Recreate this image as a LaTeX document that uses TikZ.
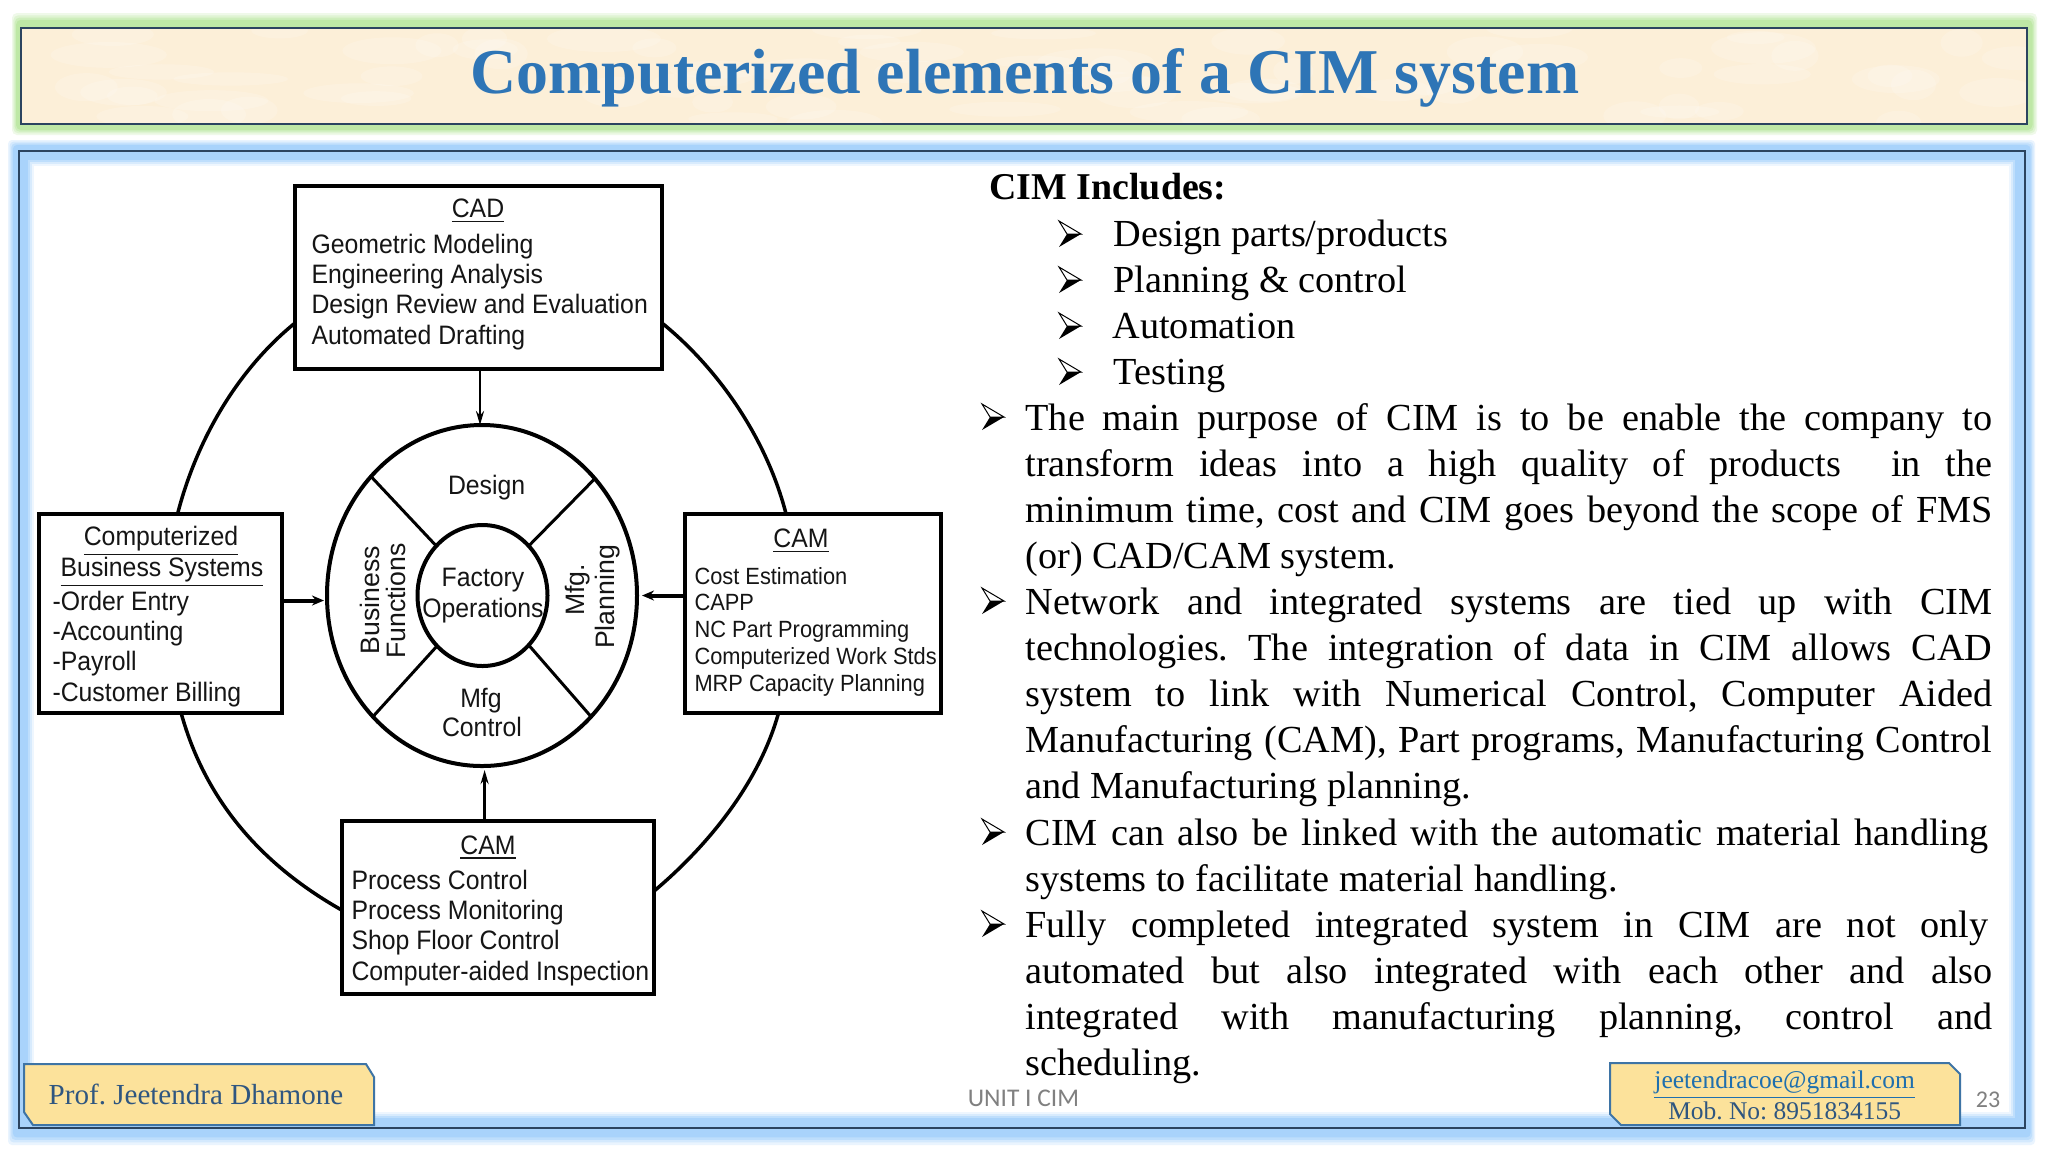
\documentclass[tikz,border=0pt]{standalone}
\usepackage{fontspec}
\setmainfont{Liberation Serif}
\setsansfont{Liberation Sans}[FakeStretch=0.93]
\newfontfamily\sidefont{Liberation Sans}
\newfontfamily\footfont{Carlito}
\usetikzlibrary{arrows.meta,calc,shapes.geometric}
\newcommand{\pxu}{0.375pt}
\definecolor{glowblue}{HTML}{A9D3FB}
\definecolor{glowgreen}{HTML}{BEE8A6}
\definecolor{paper}{HTML}{FCEFD8}
\definecolor{titleblue}{HTML}{2E75B6}
\definecolor{tagfill}{HTML}{FCE29B}
\definecolor{tagline}{HTML}{3E74A5}
\definecolor{tagtext}{HTML}{2F5680}
\definecolor{maillink}{HTML}{1F6FAE}
\definecolor{panelline}{HTML}{2B4460}
\definecolor{ink}{HTML}{151515}
\tikzset{
  box/.style={draw=black,line width=4*\pxu,fill=white,rectangle,inner sep=0pt,outer sep=0pt},
  disc/.style={draw=black,line width=4*\pxu,ellipse,inner sep=0pt,outer sep=0pt},
  lbl/.style={anchor=base west,inner sep=0pt,text=ink,font=\sffamily\fontsize{10}{10}\selectfont},
  small lbl/.style={lbl,font=\sffamily\fontsize{8.8}{9}\selectfont},
  head/.style={lbl,anchor=base},
  side/.style={head,rotate=90,font=\sidefont\fontsize{10}{10}\selectfont},
  ringarc/.style={line width=3.5*\pxu,draw=black},
  spoke/.style={line width=3*\pxu,draw=black},
  feed/.style={line width=2.5*\pxu,-{Stealth[length=14*\pxu,width=8*\pxu]}},
  feed thick/.style={line width=4*\pxu,-{Stealth[length=12*\pxu,width=10*\pxu]}},
  body/.style={anchor=north west,inner sep=0pt,text=black,text width=967*\pxu,align=justify,
    font=\fontsize{14.35}{17.29}\selectfont\frenchspacing,execute at begin node=\strut},
  item/.style={anchor=base west,inner sep=0pt,text=black,font=\fontsize{14.35}{17.29}\selectfont},
  bul/.pic={
    \fill[white] (-11,-13) -- (11,0) -- (-3,0) -- cycle;
    \draw[black,line width=1*\pxu] (-11,-13) -- (11,0) -- (-3,0) -- cycle;
    \fill[black] (-11,13) -- (11,0) -- (-3,0) -- cycle;
  },
  tag/.style={fill=tagfill,draw=tagline,line width=2*\pxu},
  tagtxt/.style={anchor=base,inner sep=0pt,text=tagtext,font=\fontsize{10.9}{11}\selectfont\frenchspacing},
  foot/.style={anchor=base,inner sep=0pt,text=black!50,font=\footfont\fontsize{9.55}{10}\selectfont},
}
\begin{document}
\begin{tikzpicture}[x=\pxu,y=-\pxu]
\useasboundingbox (0,0) rectangle (2048,1152);
\fill[white] (0,0) rectangle (2048,1152);

% title band
\foreach \o/\p in {1/25,.85/50,.7/75,.55/100}
  \fill[glowgreen!\p!white,rounded corners=5*\pxu] ({21-9*\o},{28-15*\o}) rectangle ({2027+10*\o},{124+11*\o});
\fill[paper] (21,28) rectangle (2027,124);
\begin{scope}
  \clip (21,28) rectangle (2027,124);
  \pgfmathsetseed{23}
  \foreach \n in {1,...,70}
    \fill[white,opacity=.16] ({21+2006*rnd},{28+96*rnd}) ellipse ({20+40*rnd} and {6+10*rnd});
\end{scope}
\draw[panelline,line width=2*\pxu] (21,28) rectangle (2027,124);
\node[anchor=base,inner sep=0pt,text=titleblue,font=\bfseries\fontsize{23.95}{24}\selectfont] (title) at (1025,93) {Computerized elements of a CIM system};

% main panel
\foreach \o/\p in {1/25,.85/50,.7/75,.55/100}
  \fill[glowblue!\p!white,rounded corners=4*\pxu] ({19-11*\o},{151-11*\o}) rectangle ({2025+10*\o},{1128+17*\o});
\foreach \o/\p in {0/100,7/100,9/75,11/45,13/20,14.5/0}
  \fill[glowblue!\p!white] ({19+\o},{151+\o}) rectangle ({2025-1.1*\o},{1128-1.1*\o});
\draw[panelline,line width=2.5*\pxu] (19,151) rectangle (2025,1128);

% centre wheel
\node[disc,minimum width=310*\pxu,minimum height=341*\pxu] (ring) at (482,595.5) {};
\node[disc,minimum width=130*\pxu,minimum height=141*\pxu] (hub) at (482.5,595.5) {};
\draw[spoke] (ring.133.4) -- (hub.133.9);
\draw[spoke] (ring.46.9) -- (hub.47.3);
\draw[spoke] (ring.228.8) -- (hub.228.5);
\draw[spoke] (ring.312.4) -- (hub.313.2);

% four boxes
\node[box,minimum width=367*\pxu,minimum height=183.5*\pxu] (cad) at (478.5,277.25) {};
\node[box,minimum width=243*\pxu,minimum height=199*\pxu] (biz) at (160,613.5) {};
\node[box,minimum width=255.5*\pxu,minimum height=199*\pxu] (cam) at (812.75,613.5) {};
\node[box,minimum width=312*\pxu,minimum height=173*\pxu] (camb) at (498,907.5) {};

% outer ring pieces
\draw[ringarc] (cad.194.6) .. controls +(-56.9,46.2) and +(19.3,-75.1) .. (biz.80.9);
\draw[ringarc] (cad.346.5) .. controls +(56.9,46.2) and +(-19.3,-75.1) .. (cam.105.6);
\draw[ringarc] (biz.282.25) .. controls +(25.1,91.1) and +(-76.6,-43.2) .. (camb.181.65);
\draw[ringarc] (cam.251.3) .. controls +(-19.5,70.5) and +(53,-44.6) .. (camb.6.4);

% arrows into the wheel
\draw[feed] ($(ring.north |- cad.south)+(-2,0)$) -- ($(ring.north)+(-2,0)$);
\draw[feed] ($(ring.south |- camb.north)+(2.6,0)$) -- ($(ring.south)+(2.6,4)$);
\draw[feed thick] ($(biz.east |- ring.west)+(0,5)$) -- ($(ring.west)+(-3,5)$);
\draw[feed thick] (cam.west |- ring.east) -- ($(ring.east)+(5,0)$);

% box texts
\node[head] (cadh) at (478,217.5) {\underline{CAD}};
\foreach \t [count=\i from 0] in {Geometric Modeling,Engineering Analysis,Design Review and Evaluation,Automated Drafting}
  \node[lbl] (cad\i) at (311,253.5+30.2*\i) {\t};
\node[head] (bizh) at (161,545) {\underline{Computerized}};
\node[head] (bizs) at (162,576) {\underline{Business Systems}};
\foreach \t [count=\i from 0] in {-Order Entry,-Accounting,-Payroll,-Customer Billing}
  \node[lbl] (biz\i) at (52,610+30.4*\i) {\t};
\node[head] (camh) at (801,547.4) {\underline{CAM}};
\foreach \t [count=\i from 0] in {Cost Estimation,CAPP,NC Part Programming,Computerized Work Stds,MRP Capacity Planning}
  \node[small lbl] (cam\i) at (694,584+26.8*\i) {\t};
\node[head] (cambh) at (488,854) {\underline{CAM}};
\foreach \t [count=\i from 0] in {Process Control,Process Monitoring,Shop Floor Control,Computer-aided Inspection}
  \node[lbl] (camb\i) at (351,889+30.4*\i) {\t};

% wheel texts
\node[head] (design) at (486.6,494) {Design};
\node[head] (fact) at (483,586) {Factory};
\node[head] (oper) at (483,617) {Operations};
\node[head] (mfg) at (481,707) {Mfg};
\node[head] (ctrl) at (482,736.6) {Control};
\node[side] (busi) at (379,600) {Business};
\node[side] (func) at (405,601) {Functions};
\node[side] (mfgp) at (584.6,590) {Mfg.};
\node[side] (plan) at (614,597) {Planning};

% right column
\node[anchor=base west,inner sep=0pt,font=\bfseries\fontsize{14.2}{17.29}\selectfont] (inc) at (989,199.5) {CIM Includes:};
\foreach \t/\y/\x [count=\i] in {Design parts{/}products/246/1113,Planning \& control/292/1113,Automation/338/1112,Testing/384/1113}{
  \pic at (1070,\y-12) {bul};
  \node[item] (it\i) at (\x,\y) {\t};
}
\pic at (993,417) {bul};
\node[body] (p1) at (1025,397.6) {The main purpose of CIM is to be enable the company to\linebreak
 transform ideas into a high quality of products\ \ in the\linebreak
 minimum time, cost and CIM goes beyond the scope of FMS\linebreak
 (or) CAD/CAM system.};
\pic at (993,601) {bul};
\node[body] (p2) at (1025,581.6) {Network and integrated systems are tied up with CIM\linebreak
 technologies. The integration of data in CIM allows CAD\linebreak
 system to link with Numerical Control, Computer Aided\linebreak
 Manufacturing (CAM), Part programs, Manufacturing Control\linebreak
 and Manufacturing planning.};
\pic at (993,832) {bul};
\node[body,text width=963*\pxu] (p3) at (1025,812.6) {CIM can also be linked with the automatic material handling\linebreak
 systems to facilitate material handling.};
\pic at (993,924) {bul};
\node[body] (p4) at (1025,904.6) {\hbox to 361.1pt{Fully\hfill completed\hfill integrated\hfill system\hfill in\hfill CIM\hfill are\hfill not\hfill only}\hfil\linebreak
 automated but also integrated with each other and also\linebreak
 integrated with manufacturing planning, control and\linebreak
 scheduling.};

% footer
\draw[tag] (24,1064) -- (366,1064) -- (374,1077) -- (374,1125) -- (33,1125) -- (24,1112) -- cycle;
\node[tagtxt] (prof) at (196,1104) {Prof. Jeetendra Dhamone};
\draw[tag] (1610,1063) -- (1949,1063) -- (1960,1074) -- (1960,1125) -- (1621,1125) -- (1610,1114) -- cycle;
\node[tagtxt,text=maillink,font=\fontsize{9.55}{9.6}\selectfont] (mail) at (1784.6,1088) {\underline{jeetendracoe@gmail.com}};
\node[tagtxt,font=\fontsize{9.55}{9.6}\selectfont\frenchspacing] (mob) at (1784.6,1119) {Mob. No: 8951834155};
\node[foot] (unit) at (1023.5,1106) {UNIT I CIM};
\node[foot,font=\footfont\fontsize{9}{9}\selectfont] (pageno) at (1988,1107) {23};
\end{tikzpicture}
\end{document}
